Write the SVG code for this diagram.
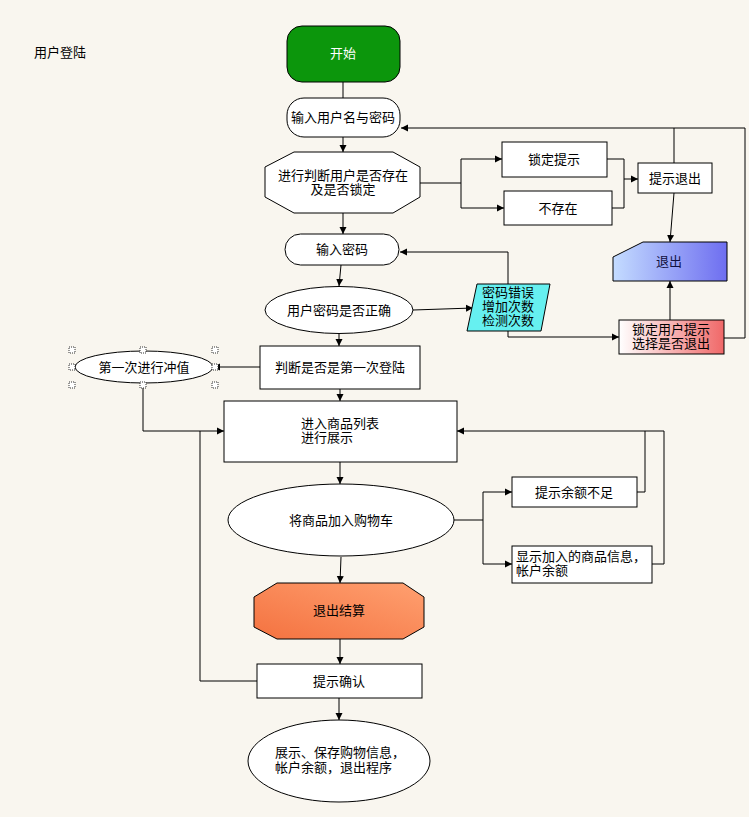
<svg xmlns="http://www.w3.org/2000/svg" width="749" height="817" viewBox="0 0 749 817">
<defs>
<marker id="arr" markerWidth="8" markerHeight="8" refX="7" refY="4" orient="auto" markerUnits="userSpaceOnUse">
<path d="M0,0.5 L7,4 L0,7.5 z" fill="#000"/>
</marker>
<linearGradient id="gBlue" x1="0" y1="0" x2="1" y2="0">
<stop offset="0" stop-color="#c4dcff"/>
<stop offset="1" stop-color="#6e6ef0"/>
</linearGradient>
<linearGradient id="gRed" x1="0" y1="0" x2="1" y2="0">
<stop offset="0" stop-color="#ffffff"/>
<stop offset="1" stop-color="#f06868"/>
</linearGradient>
<linearGradient id="gOrange" x1="0" y1="1" x2="1" y2="0">
<stop offset="0" stop-color="#f47240"/>
<stop offset="1" stop-color="#ffa070"/>
</linearGradient>
</defs>
<style>
text{font-family:"Noto Sans CJK SC","Noto Sans CJK JP",sans-serif;font-size:13px;fill:#000}
.c{text-anchor:middle}
.n{fill:#fff;stroke:#000;stroke-width:1}
.e{fill:none;stroke:#000;stroke-width:1}
.a{marker-end:url(#arr)}
.h{fill:#fff;stroke:#333;stroke-width:1;stroke-dasharray:1 1}
</style>
<rect width="749" height="817" fill="#f9f6ef"/>
<text x="34" y="57">用户登陆</text>

<g id="connectors">
<path class="e" d="M343,82 V98"/>
<path class="e a" d="M343,137 V152"/>
<path class="e a" d="M420,183 H461 V159 H502"/>
<path class="e a" d="M461,183 V208 H504"/>
<path class="e a" d="M607,159 H624 V179 H638"/>
<path class="e" d="M612,208 H624 V179"/>
<path class="e a" d="M674,163 V128 H401"/>
<path class="e" d="M724,338 H745 V128 H674"/>
<path class="e a" d="M674,193 L670,242"/>
<path class="e a" d="M670,320 V281"/>
<path class="e a" d="M343,213 V234"/>
<path class="e a" d="M341,265 L339,286"/>
<path class="e a" d="M413,310 L473,308"/>
<path class="e a" d="M508,285 V252 H400"/>
<path class="e a" d="M508,331 V337 H619"/>
<path class="e a" d="M339,333 V346"/>
<path class="e a" d="M260,367 H213"/>
<path class="e a" d="M143,384 V431 H224"/>
<path class="e a" d="M340,389 V401"/>
<path class="e" d="M257,681 H200 V431"/>
<path class="e a" d="M340,462 V484"/>
<path class="e a" d="M453,520 H483 V492 H512"/>
<path class="e a" d="M483,520 V564 H512"/>
<path class="e a" d="M637,492 H645 V431 H457"/>
<path class="e" d="M652,564 H664 V431 H645"/>
<path class="e a" d="M341,557 L340,583"/>
<path class="e a" d="M340,639 V664"/>
<path class="e a" d="M339,698 V720"/>
</g>

<g id="start">
<rect x="287" y="26" width="113" height="56" rx="15" fill="#0c960c" stroke="#000"/>
<text class="c" x="343" y="58" style="fill:#fff">开始</text>
</g>
<g id="inputUser">
<rect class="n" x="287" y="98" width="113" height="39" rx="17"/>
<text class="c" x="343" y="122">输入用户名与密码</text>
</g>
<g id="checkUser">
<polygon class="n" points="294,152 393,152 420,167 420,197 393,213 294,213 265,197 265,167"/>
<text class="c" x="343" y="180">进行判断用户是否存在</text>
<text class="c" x="343" y="194">及是否锁定</text>
</g>
<g id="lockTip">
<rect class="n" x="502" y="142" width="105" height="35"/>
<text class="c" x="554" y="164">锁定提示</text>
</g>
<g id="notExist">
<rect class="n" x="504" y="191" width="108" height="34"/>
<text class="c" x="558" y="213">不存在</text>
</g>
<g id="tipExit">
<rect class="n" x="638" y="163" width="74" height="30"/>
<text class="c" x="675" y="183">提示退出</text>
</g>
<g id="exit">
<polygon points="643,242 727,242 727,281 613,281 613,257" fill="url(#gBlue)" stroke="#000"/>
<text class="c" x="669" y="266" style="fill:#101040">退出</text>
</g>
<g id="inputPwd">
<rect class="n" x="285" y="234" width="114" height="31" rx="15.5"/>
<text class="c" x="342" y="254">输入密码</text>
</g>
<g id="checkPwd">
<ellipse class="n" cx="339" cy="310" rx="74" ry="23.5"/>
<text class="c" x="339" y="315">用户密码是否正确</text>
</g>
<g id="pwdError">
<polygon points="477,284 550,284 541,331 467,331" fill="#66f0f0" stroke="#000"/>
<text class="c" x="508" y="297">密码错误</text>
<text class="c" x="508" y="311">增加次数</text>
<text class="c" x="508" y="325">检测次数</text>
</g>
<g id="lockUser">
<rect x="619" y="320" width="105" height="34" fill="url(#gRed)" stroke="#000"/>
<text class="c" x="671" y="334">锁定用户提示</text>
<text class="c" x="671" y="348">选择是否退出</text>
</g>
<g id="firstLogin">
<rect class="n" x="260" y="346" width="160" height="43"/>
<text class="c" x="340" y="372">判断是否是第一次登陆</text>
</g>
<g id="recharge">
<ellipse class="n" cx="144" cy="367" rx="69" ry="16"/>
<text class="c" x="144" y="372">第一次进行冲值</text>
<rect class="h" x="69" y="347" width="6" height="6"/>
<rect class="h" x="140" y="347" width="6" height="6"/>
<rect class="h" x="212" y="347" width="6" height="6"/>
<rect class="h" x="69" y="364" width="6" height="6"/>
<rect class="h" x="212" y="364" width="6" height="6"/>
<rect class="h" x="69" y="382" width="6" height="6"/>
<rect class="h" x="140" y="382" width="6" height="6"/>
<rect class="h" x="212" y="382" width="6" height="6"/>
</g>
<g id="goodsList">
<rect class="n" x="224" y="401" width="233" height="61"/>
<text x="301" y="428">进入商品列表</text>
<text x="301" y="442">进行展示</text>
</g>
<g id="addCart">
<ellipse class="n" cx="341" cy="520" rx="113" ry="36"/>
<text class="c" x="341" y="525">将商品加入购物车</text>
</g>
<g id="lowBalance">
<rect class="n" x="512" y="477" width="125" height="30"/>
<text class="c" x="574" y="497">提示余额不足</text>
</g>
<g id="showInfo">
<rect class="n" x="512" y="546" width="140" height="37"/>
<text x="516" y="561">显示加入的商品信息，</text>
<text x="516" y="575">帐户余额</text>
</g>
<g id="checkout">
<polygon points="277,583 403,583 424,597 424,627 403,639 277,639 254,627 254,597" fill="url(#gOrange)" stroke="#000"/>
<text class="c" x="339" y="615">退出结算</text>
</g>
<g id="confirm">
<rect class="n" x="257" y="664" width="165" height="34"/>
<text class="c" x="339" y="686">提示确认</text>
</g>
<g id="end">
<ellipse class="n" cx="339" cy="761" rx="91" ry="41"/>
<text x="275" y="757">展示、保存购物信息，</text>
<text x="275" y="772">帐户余额，退出程序</text>
</g>
</svg>
